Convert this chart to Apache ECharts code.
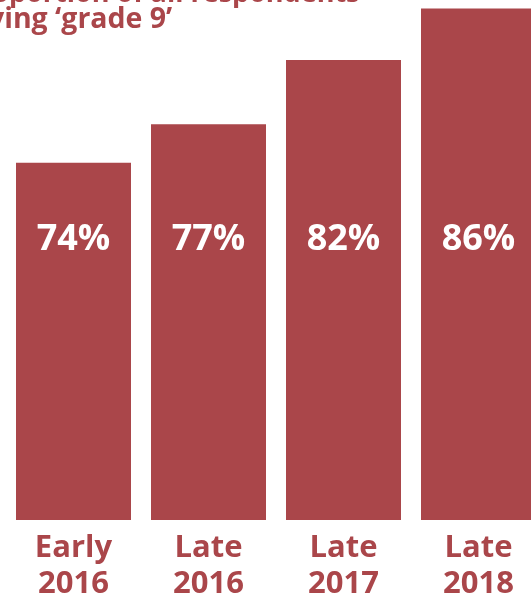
<!DOCTYPE html>
<html>
<head>
<meta charset="utf-8">
<script src="https://cdn.jsdelivr.net/npm/echarts@6/dist/echarts.min.js"></script>
<style>
  html, body { margin: 0; padding: 0; background: #fff; overflow: hidden; }
  #main { width: 531px; height: 599px; }
</style>
</head>
<body>
<div id="main"></div>
<script>
// 数据
var categories = ['Early\n2016', 'Late\n2016', 'Late\n2017', 'Late\n2018'];
var values = [74, 77, 82, 86];
var titleLine1 = 'Proportion of all respondents';
var titleLine2 = 'receiving \u2018grade 9\u2019';

var red = '#aa464a';
var font = '"Open Sans", "Noto Sans", sans-serif';

var myChart = echarts.init(document.getElementById('main'));
myChart.setOption({
  animation: false,
  title: {
    text: '{a|' + titleLine1 + '}\n{b|' + titleLine2 + '}',
    left: -82,
    top: -18,
    padding: 0,
    textStyle: {
      fontFamily: font,
      fontWeight: 'bold',
      fontSize: 27,
      lineHeight: 25,
      rich: {
        a: { color: red, fontFamily: font, fontWeight: 'bold', fontSize: 27, lineHeight: 25, padding: [0, 0, 0, 45] },
        b: { color: red, fontFamily: font, fontWeight: 'bold', fontSize: 28.5, lineHeight: 25 }
      }
    }
  },
  grid: {
    left: 6,
    width: 540,
    top: 0,
    bottom: 79,
    outerBoundsMode: 'none',
    containLabel: false
  },
  xAxis: {
    type: 'category',
    data: categories,
    axisLine: { show: false },
    axisTick: { show: false },
    axisLabel: {
      color: red,
      fontFamily: font,
      fontWeight: 'bold',
      fontSize: 31,
      lineHeight: 36,
      margin: 10
    }
  },
  yAxis: {
    type: 'value',
    min: 46.17,
    max: 86.67,
    show: false,
    splitLine: { show: false }
  },
  series: [
    {
      type: 'bar',
      data: values,
      barWidth: 115,
      itemStyle: { color: red },
      label: {
        show: true,
        position: 'insideBottom',
        distance: 262,
        formatter: '{c}%',
        color: '#fff',
        fontFamily: font,
        fontWeight: 'bold',
        fontSize: 36
      }
    }
  ]
});
</script>
</body>
</html>
